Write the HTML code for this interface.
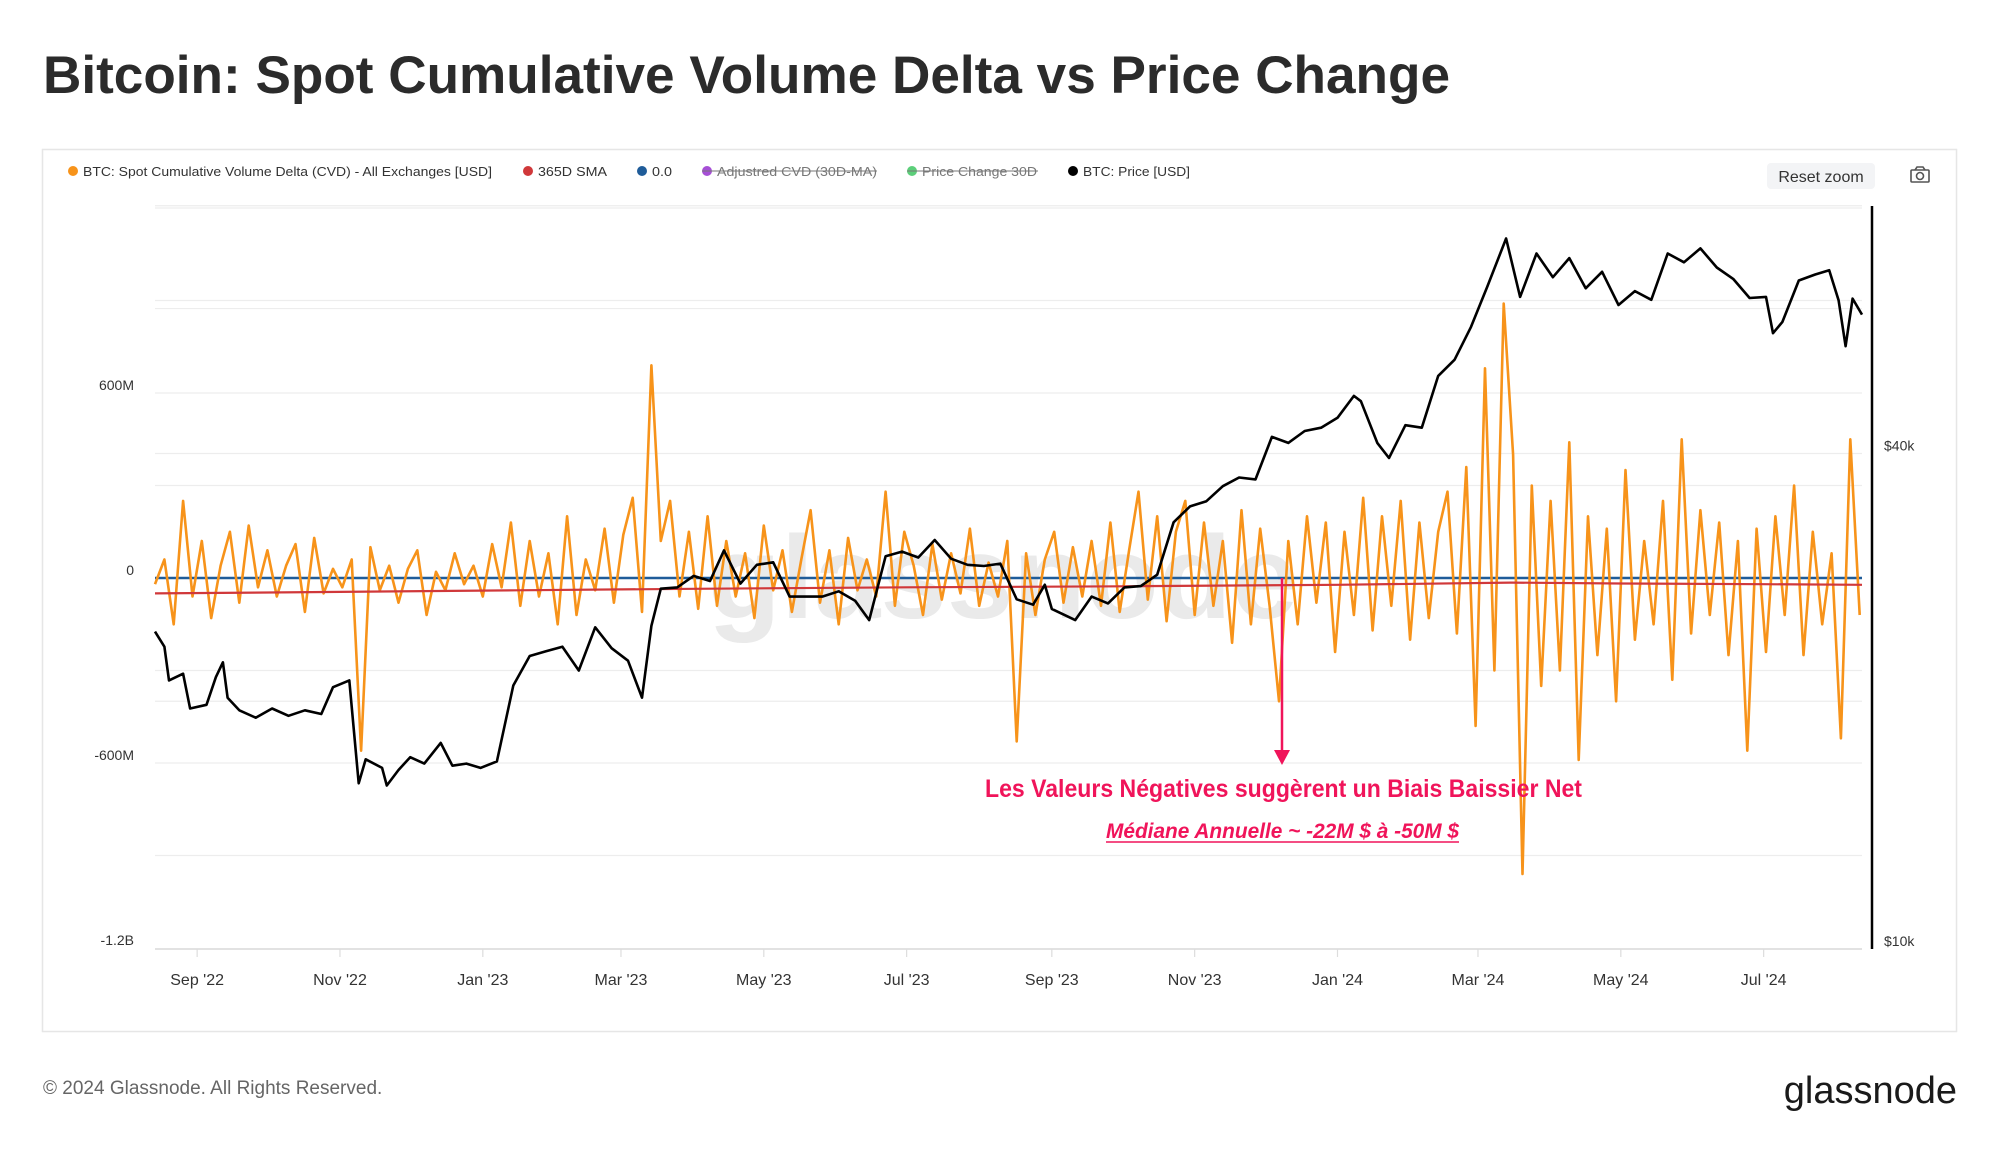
<!DOCTYPE html>
<html><head><meta charset="utf-8">
<style>
html,body{margin:0;padding:0;background:#fff;}
svg{display:block;font-family:"Liberation Sans",sans-serif;}
</style></head>
<body>
<svg id="chart" width="2000" height="1152" viewBox="0 0 2000 1152" xmlns="http://www.w3.org/2000/svg">
  <text x="43" y="93" font-size="53" font-weight="bold" fill="#2b2b2b" textLength="1407" lengthAdjust="spacingAndGlyphs">Bitcoin: Spot Cumulative Volume Delta vs Price Change</text>
  <rect x="42.5" y="149.5" width="1914" height="882" fill="none" stroke="#e6e6e6" stroke-width="1.5"/>
  <g id="legend" font-size="13" fill="#333">
    <g><circle cx="73" cy="171" r="5" fill="#f7931a"/><text x="83" y="176" textLength="409" lengthAdjust="spacingAndGlyphs">BTC: Spot Cumulative Volume Delta (CVD) - All Exchanges [USD]</text></g>
    <g><circle cx="528" cy="171" r="5" fill="#d0383a"/><text x="538" y="176" textLength="69" lengthAdjust="spacingAndGlyphs">365D SMA</text></g>
    <g><circle cx="642" cy="171" r="5" fill="#1f5c99"/><text x="652" y="176" textLength="20" lengthAdjust="spacingAndGlyphs">0.0</text></g>
    <g fill="#777"><circle cx="707" cy="171" r="5" fill="#a64fd6"/><text x="717" y="176" textLength="160" lengthAdjust="spacingAndGlyphs">Adjustred CVD (30D-MA)</text><line x1="702" y1="171" x2="877" y2="171" stroke="#777" stroke-width="1"/></g>
    <g fill="#777"><circle cx="912" cy="171" r="5" fill="#5ccf7a"/><text x="922" y="176" textLength="115" lengthAdjust="spacingAndGlyphs">Price Change 30D</text><line x1="907" y1="171" x2="1038" y2="171" stroke="#777" stroke-width="1"/></g>
    <g><circle cx="1073" cy="171" r="5" fill="#000"/><text x="1083" y="176" textLength="107" lengthAdjust="spacingAndGlyphs">BTC: Price [USD]</text></g>
  </g>
  <g><rect x="1767" y="163" width="108" height="26" rx="4" fill="#f3f4f6"/><text x="1821" y="182" font-size="16" fill="#333" text-anchor="middle">Reset zoom</text></g>
  <g fill="none" stroke="#555" stroke-width="1.6"><rect x="1911" y="170" width="18" height="12" rx="1"/><circle cx="1920" cy="176" r="3.5"/><path d="M1915 170 l2 -3 h6 l2 3"/></g>
  <g id="grid"></g>
  <text x="708" y="618" font-size="118" fill="#d8d8d8" fill-opacity="0.55" font-weight="bold" textLength="590" lengthAdjust="spacingAndGlyphs">glassnode</text>
  <g id="yleft" font-size="14" fill="#333" text-anchor="end"></g>
  <g id="yright" font-size="14" fill="#333"></g>
  <g id="xaxis" font-size="16" fill="#333" text-anchor="middle"></g>
  <g id="series"></g>
  <g>
    <line x1="1282" y1="578" x2="1282" y2="752" stroke="#f0145a" stroke-width="2.5"/>
    <path d="M1274 750 L1290 750 L1282 765 Z" fill="#f0145a"/>
    <text x="985" y="797" font-size="25" font-weight="bold" fill="#f0145a" textLength="597" lengthAdjust="spacingAndGlyphs">Les Valeurs Négatives suggèrent un Biais Baissier Net</text>
    <text x="1106" y="838" font-size="21" font-weight="bold" font-style="italic" fill="#f0145a" textLength="353" lengthAdjust="spacingAndGlyphs">Médiane Annuelle  ~ -22M $ à -50M $</text>
    <line x1="1106" y1="842" x2="1459" y2="842" stroke="#f0145a" stroke-width="1.5"/>
  </g>
  <text x="43" y="1094" font-size="19" fill="#666">© 2024 Glassnode. All Rights Reserved.</text>
  <text x="1957" y="1103" font-size="38" fill="#1a1a1a" text-anchor="end">glassnode</text>
</svg>
<script>
// ---- data ----
const cvdStart = "2022-08-14";
const cvdStepDays = 4;
const cvdValuesM = [
-20,60,-150,250,-60,120,-130,40,150,-80,
170,-30,90,-60,40,110,-110,130,-50,30,
-30,60,-560,100,-40,40,-80,30,90,-120,
20,-40,80,-20,40,-60,110,-30,180,-90,
120,-60,80,-150,200,-120,60,-40,160,-80,
140,260,-110,690,120,250,-60,150,-100,200,
-90,120,-60,80,-130,170,-40,90,-110,60,
220,-80,90,-150,130,-40,60,-60,280,-90,
150,40,-120,110,-70,80,-50,160,-90,50,
-60,120,-530,80,-120,60,150,-80,100,-60,
120,-90,180,-110,90,280,-70,200,-140,150,
250,-120,180,-90,120,-210,220,-150,160,-90,
-400,120,-150,200,-80,180,-240,150,-120,260,
-170,200,-90,250,-200,180,-130,150,280,-180,
360,-480,680,-300,890,400,-960,300,-350,250,
-300,440,-590,200,-250,160,-400,350,-200,120,
-150,250,-330,450,-180,220,-120,180,-250,120,
-560,160,-240,200,-120,300,-250,150,-150,80,
-520,450,-120];
const smaDates = ["2022-08-14","2022-11-01","2023-01-15","2023-04-01","2023-07-01","2023-10-01","2024-01-01","2024-03-15","2024-05-01","2024-07-01","2024-08-12"];
const smaValuesM = [-50,-45,-40,-35,-30,-27,-22,-15,-18,-20,-22];
const priceDates = ["2022-08-14","2022-08-18","2022-08-20","2022-08-26","2022-08-29","2022-09-05","2022-09-09","2022-09-12","2022-09-14","2022-09-19","2022-09-26","2022-10-03","2022-10-10","2022-10-17","2022-10-24","2022-10-29","2022-11-05","2022-11-09","2022-11-12","2022-11-19","2022-11-21","2022-11-26","2022-12-01","2022-12-07","2022-12-14","2022-12-19","2022-12-25","2022-12-31","2023-01-07","2023-01-14","2023-01-21","2023-01-28","2023-02-04","2023-02-11","2023-02-18","2023-02-25","2023-03-04","2023-03-10","2023-03-14","2023-03-18","2023-03-25","2023-04-01","2023-04-08","2023-04-14","2023-04-21","2023-04-28","2023-05-05","2023-05-12","2023-05-19","2023-05-26","2023-06-02","2023-06-09","2023-06-15","2023-06-22","2023-06-29","2023-07-06","2023-07-13","2023-07-20","2023-07-27","2023-08-03","2023-08-10","2023-08-17","2023-08-24","2023-08-29","2023-09-01","2023-09-11","2023-09-18","2023-09-25","2023-10-02","2023-10-09","2023-10-16","2023-10-23","2023-10-30","2023-11-06","2023-11-13","2023-11-20","2023-11-27","2023-12-04","2023-12-11","2023-12-18","2023-12-25","2024-01-01","2024-01-08","2024-01-11","2024-01-18","2024-01-23","2024-01-30","2024-02-06","2024-02-13","2024-02-20","2024-02-27","2024-03-05","2024-03-13","2024-03-19","2024-03-26","2024-04-02","2024-04-09","2024-04-16","2024-04-23","2024-04-30","2024-05-07","2024-05-14","2024-05-21","2024-05-28","2024-06-04","2024-06-11","2024-06-18","2024-06-25","2024-07-02","2024-07-05","2024-07-09","2024-07-16","2024-07-23","2024-07-29","2024-08-02","2024-08-05","2024-08-08","2024-08-12"];
const priceValuesK = [24.3,23.3,21.2,21.6,19.6,19.8,21.4,22.3,20.2,19.5,19.1,19.6,19.2,19.5,19.3,20.8,21.2,15.9,17.0,16.6,15.8,16.5,17.1,16.8,17.8,16.7,16.8,16.6,16.9,20.9,22.7,23.0,23.3,21.8,24.6,23.2,22.4,20.2,24.7,27.4,27.5,28.4,28.0,30.5,27.8,29.3,29.5,26.8,26.8,26.8,27.2,26.5,25.1,30.0,30.4,29.9,31.4,29.8,29.3,29.2,29.4,26.6,26.2,27.7,25.9,25.1,26.8,26.3,27.5,27.6,28.5,33.0,34.5,35.0,36.5,37.4,37.2,41.9,41.2,42.6,43.0,44.2,47.0,46.3,41.2,39.5,43.3,43.0,49.7,52.0,57.0,63.8,73.0,62.0,70.0,65.5,69.1,63.5,66.5,60.6,63.0,61.5,70.0,68.3,71.0,67.3,65.2,61.8,62.0,56.0,57.8,64.9,66.0,66.8,61.4,54.0,61.7,59.0];
const monthTicks = ["2022-09-01","2022-11-01","2023-01-01","2023-03-01","2023-05-01","2023-07-01","2023-09-01","2023-11-01","2024-01-01","2024-03-01","2024-05-01","2024-07-01"];
const monthLabels = ["Sep '22","Nov '22","Jan '23","Mar '23","May '23","Jul '23","Sep '23","Nov '23","Jan '24","Mar '24","May '24","Jul '24"];
const leftTicksM = [-1200,-600,0,600];
const leftTickLabels = ["-1.2B","-600M","0","600M"];
const rightTicksK = [10,40];
const rightTickLabels = ["$10k","$40k"];

// ---- axes ----
const NS="http://www.w3.org/2000/svg";
const X0=155, X1=1862, Y0=949, Y1=204;
const t0=Date.parse("2022-08-14"), t1=Date.parse("2024-08-12");
function xs(d){const t=typeof d==="number"?d:Date.parse(d);return X0+(t-t0)/(t1-t0)*(X1-X0);}
function yl(vM){return 578-(vM/600)*185;}
function yr(pK){return Y0-823*Math.log10(pK/10);}
function mk(tag,attrs,parent){const e=document.createElementNS(NS,tag);for(const k in attrs)e.setAttribute(k,attrs[k]);parent.appendChild(e);return e;}

const grid=document.getElementById('grid');
for(let v=-900;v<=1200;v+=300){
  const g=mk('line',{x1:X0,x2:X1,y1:yl(v),y2:yl(v),stroke:'#ededed','stroke-width':1.2},grid);
  
  
}
[20,40,60,80].forEach(p=>{
  const g=mk('line',{x1:X0,x2:X1,y1:yr(p),y2:yr(p),stroke:'#ededed','stroke-width':1.2},grid);
  
  
});
const base=mk('line',{x1:X0,x2:X1,y1:Y0,y2:Y0,stroke:'#d8d8d8','stroke-width':1.5},grid);



const yL=document.getElementById('yleft');
leftTicksM.forEach((v,i)=>{
  const t=mk('text',{x:134,y:yl(v)-3},yL);t.textContent=leftTickLabels[i];
  
  
});
const yR=document.getElementById('yright');
rightTicksK.forEach((v,i)=>{
  const t=mk('text',{x:1884,y:yr(v)-3},yR);t.textContent=rightTickLabels[i];
  
  
});
const ra=mk('line',{x1:1872,x2:1872,y1:206,y2:949,stroke:'#000','stroke-width':2.5},yR);



const xA=document.getElementById('xaxis');
monthTicks.forEach((d,i)=>{
  const x=xs(d);
  const tk=mk('line',{x1:x,x2:x,y1:Y0,y2:Y0+8,stroke:'#ddd','stroke-width':1.2},xA);
  
  
  const t=mk('text',{x:x,y:985},xA);t.textContent=monthLabels[i];
  
  
});

// ---- series ----
const S=document.getElementById('series');
function pathFrom(xsArr,ysArr){return xsArr.map((x,i)=>(i?'L':'M')+x.toFixed(1)+' '+ysArr[i].toFixed(1)).join(' ');}
const zero=mk('line',{x1:X0,x2:X1,y1:yl(0),y2:yl(0),stroke:'#1f5c99','stroke-width':2.5},S);


const cs=Date.parse(cvdStart);
const cvdX=cvdValuesM.map((v,i)=>xs(cs+i*cvdStepDays*86400000));
const cvdY=cvdValuesM.map(v=>yl(v));
const cvd=mk('path',{d:pathFrom(cvdX,cvdY),fill:'none',stroke:'#f7931a','stroke-width':2.6,'stroke-linejoin':'round'},S);


const sma=mk('path',{d:pathFrom(smaDates.map(xs),smaValuesM.map(yl)),fill:'none',stroke:'#d0383a','stroke-width':2.2},S);


const price=mk('path',{d:pathFrom(priceDates.map(xs),priceValuesK.map(yr)),fill:'none',stroke:'#000','stroke-width':2.6,'stroke-linejoin':'round'},S);


</script>
</body></html>
